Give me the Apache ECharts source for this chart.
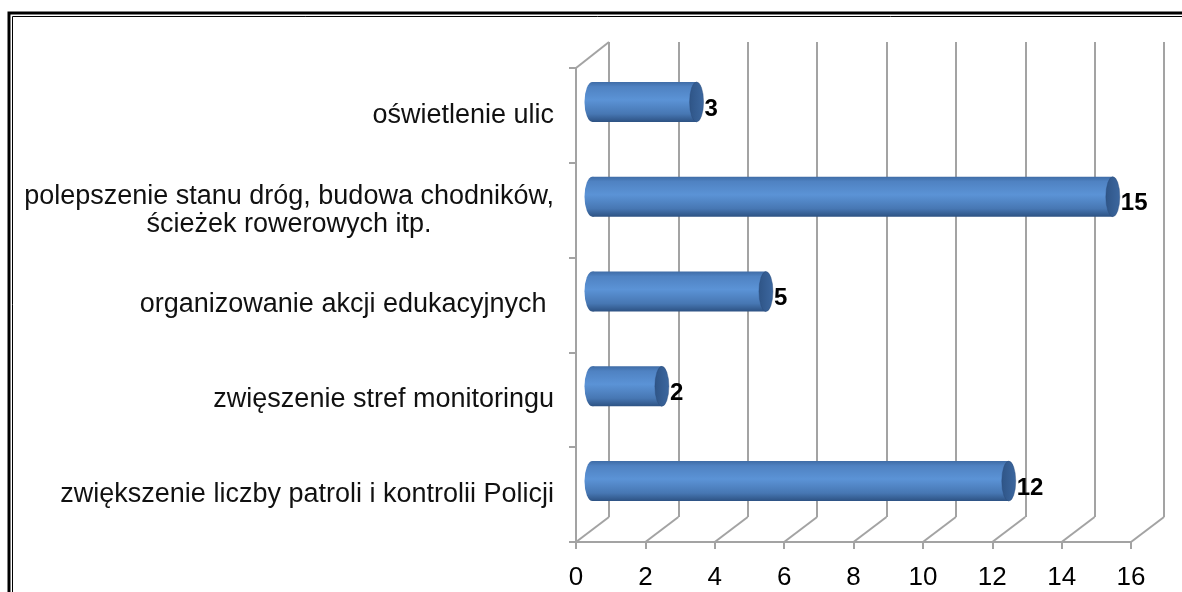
<!DOCTYPE html>
<html>
<head>
<meta charset="utf-8">
<script src="https://cdn.jsdelivr.net/npm/echarts@6/dist/echarts.min.js"></script>
<style>
    html, body { margin: 0; padding: 0; background: #fff; }
    #chart { width: 1182px; height: 592px; }
</style>
</head>
<body>
<div id="chart"></div>
<script>
// dane
var categories = [
    'oświetlenie ulic',
    'polepszenie stanu dróg, budowa chodników,\nścieżek rowerowych itp.',
    'organizowanie akcji edukacyjnych ',
    'zwięszenie stref monitoringu',
    'zwiększenie liczby patroli i kontrolii Policji'
];
var values = [3, 15, 5, 2, 12];
var xTicks = [0, 2, 4, 6, 8, 10, 12, 14, 16];

var font = 'Liberation Sans, Arial, sans-serif';
var gridColor = '#a3a3a3';
// przesuniecie glebokosci (efekt 3D)
var dx = 33, dy = -25;
var front = { left: 576, right: 51, top: 68, bottom: 50 };
var back = { left: front.left + dx, right: front.right - dx, top: front.top + dy - 1, bottom: front.bottom - dy };

var chart = echarts.init(document.getElementById('chart'));

function floorItem(params, api) {
    var cs = params.coordSys;
    var x = api.coord([api.value(0), 0])[0];
    var yb = cs.y + cs.height;
    var lineStyle = { stroke: gridColor, lineWidth: 2 };
    var children = [{
        type: 'line',
        shape: { x1: x, y1: yb, x2: x + dx, y2: yb + dy },
        style: lineStyle
    }];
    if (api.value(0) === 0) {
        children.push({
            type: 'line',
            shape: { x1: cs.x, y1: cs.y, x2: cs.x + dx, y2: cs.y + dy - 1 },
            style: lineStyle
        });
    }
    return { type: 'group', children: children };
}

function cylinderItem(params, api) {
    var v = api.value(0);
    var idx = api.value(1);
    var p0 = api.coord([0, idx]);
    var p1 = api.coord([v, idx]);
    var x0 = p0[0] + dx / 2;
    var x1 = p1[0] + dx / 2;
    var yc = p1[1] + dy / 2 - 1;
    var h = 40, rx = 8;
    var bodyFill = new echarts.graphic.LinearGradient(0, 0, 0, 1, [
        { offset: 0, color: '#3f6ca6' },
        { offset: 0.12, color: '#4f82c2' },
        { offset: 0.45, color: '#5b93d6' },
        { offset: 0.8, color: '#4777b3' },
        { offset: 1, color: '#2d5283' }
    ]);
    var capFill = new echarts.graphic.LinearGradient(0, 0, 1, 0, [
        { offset: 0, color: '#2f5587' },
        { offset: 1, color: '#3c679f' }
    ]);
    return {
        type: 'group',
        children: [{
            type: 'circle',
            shape: { cx: 0, cy: 0, r: h / 2 },
            x: x0, y: yc, scaleX: rx / (h / 2),
            style: { fill: bodyFill }
        }, {
            type: 'rect',
            shape: { x: x0, y: yc - h / 2, width: x1 - x0, height: h },
            style: { fill: bodyFill }
        }, {
            type: 'circle',
            shape: { cx: 0, cy: 0, r: h / 2 },
            x: x1, y: yc, scaleX: (rx - 1) / (h / 2),
            style: { fill: capFill, stroke: '#2a4c7a', lineWidth: 0.6 }
        }, {
            type: 'text',
            x: x1 + rx, y: yc + 7,
            style: {
                text: String(v),
                fill: '#000',
                font: 'bold 24px ' + font,
                textAlign: 'left',
                textVerticalAlign: 'middle'
            }
        }]
    };
}

var option = {
    animation: false,
    backgroundColor: '#fff',
    grid: [
        { left: front.left, right: front.right, top: front.top, bottom: front.bottom },
        { left: back.left, right: back.right, top: back.top, bottom: back.bottom }
    ],
    xAxis: [{
        gridIndex: 0,
        type: 'value',
        min: 0,
        max: 16,
        interval: 2,
        axisLine: { show: true, lineStyle: { color: gridColor, width: 2 } },
        axisTick: { show: true, length: 7, lineStyle: { color: gridColor, width: 2 } },
        axisLabel: {
            margin: 23,
            color: '#000',
            fontFamily: font,
            fontSize: 26,
            formatter: function(v) { return xTicks.indexOf(v) >= 0 ? String(v) : ''; }
        },
        splitLine: { show: false }
    }, {
        gridIndex: 1,
        type: 'value',
        min: 0,
        max: 16,
        interval: 2,
        axisLine: { show: false },
        axisTick: { show: false },
        axisLabel: { show: false },
        splitLine: { show: true, lineStyle: { color: gridColor, width: 2 } }
    }],
    yAxis: [{
        gridIndex: 0,
        type: 'category',
        inverse: true,
        data: categories,
        axisLine: { show: true, lineStyle: { color: gridColor, width: 2 } },
        axisTick: { show: true, length: 7, lineStyle: { color: gridColor, width: 2 } },
        axisLabel: {
            margin: 22,
            color: '#111',
            fontFamily: font,
            fontSize: 27,
            lineHeight: 29,
            formatter: function(v) {
                if (v.indexOf('\n') < 0) return v;
                return v.split('\n').map(function(s) { return '{c|' + s + '}'; }).join('\n');
            },
            rich: {
                c: { align: 'center', fontFamily: font, fontSize: 27, lineHeight: 28, color: '#111' }
            }
        }
    }, {
        gridIndex: 1,
        type: 'value',
        show: false
    }],
    series: [{
        name: 'podloga',
        type: 'custom',
        xAxisIndex: 0,
        yAxisIndex: 0,
        clip: false,
        silent: true,
        renderItem: floorItem,
        encode: { x: 0 },
        data: xTicks.map(function(t) { return [t]; })
    }, {
        name: 'wartosci',
        type: 'custom',
        xAxisIndex: 0,
        yAxisIndex: 0,
        clip: false,
        renderItem: cylinderItem,
        encode: { x: 0, y: 1 },
        data: values.map(function(v, i) { return [v, i]; })
    }],
    graphic: [{
        type: 'polyline',
        shape: { points: [[9, 600], [9, 13], [1190, 13]] },
        style: { stroke: '#000', lineWidth: 3, fill: null }
    }, {
        type: 'polyline',
        shape: { points: [[12.5, 600], [12.5, 16.5], [1190, 16.5]] },
        style: { stroke: '#000', lineWidth: 1, fill: null }
    }]
};
chart.setOption(option, true);
</script>
</body>
</html>
